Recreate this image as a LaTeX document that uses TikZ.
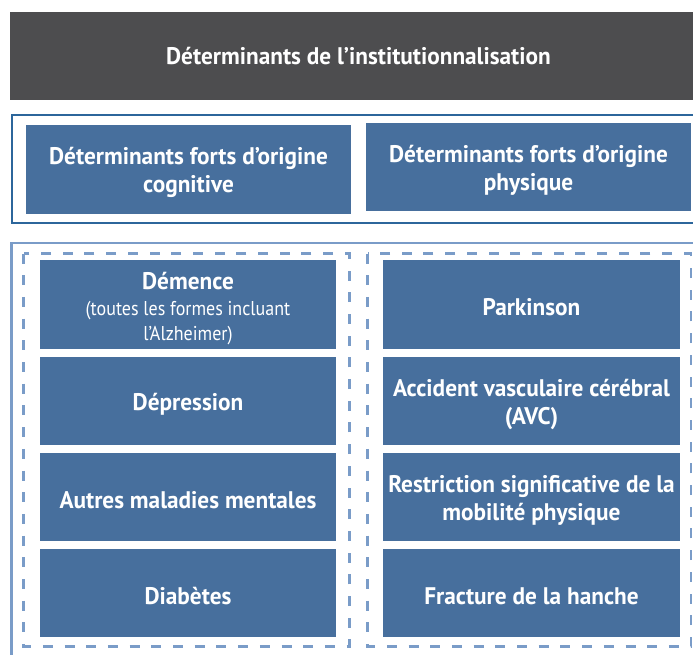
\documentclass[tikz,border=0pt]{standalone}
\usepackage{fontspec}
\setmainfont{PT Sans}[FakeStretch=0.97]
\definecolor{darkbar}{RGB}{77,77,79}
\definecolor{frameA}{RGB}{44,102,155}
\definecolor{frameB}{RGB}{122,156,200}
\definecolor{boxblue}{RGB}{71,111,157}
\tikzset{
  bluebox/.style={rectangle, fill=boxblue, draw=none, inner sep=0pt},
  darkbox/.style={rectangle, fill=darkbar, draw=none, inner sep=0pt},
  lbl/.style={text=white, align=center, inner sep=0pt, yshift=-3pt,
    font=\fontsize{24}{28}\selectfont\bfseries},
  solidframe/.style={draw=frameA, line width=2.6pt},
  lightframe/.style={draw=frameB, line width=2.8pt},
  dashframe/.style={draw=frameB, line width=2.6pt, dash pattern=on 10pt off 11.7pt},
}
\newcommand{\subfnt}{\fontsize{20}{24}\selectfont\mdseries\addfontfeature{FakeStretch=0.9}}
\begin{document}
\begin{tikzpicture}[x=1pt,y=-1pt]
\useasboundingbox (0,0) rectangle (693,654);
% title bar
\node[darkbox, minimum width=697pt, minimum height=88pt] (title) at (358.5,56) {};
\node[lbl, yshift=3pt] (title-t) at (title.center) {Déterminants de l’institutionnalisation};
% frame 1
\draw[solidframe] (12,115) rectangle (705,223);
\node[bluebox, minimum width=325pt, minimum height=89pt] (cog) at (188.5,169.5) {};
\node[lbl] (cog-t) at (cog.center) {Déterminants forts d’origine\\cognitive};
\node[bluebox, minimum width=325pt, minimum height=88pt] (phy) at (528.5,167) {};
\node[lbl] (phy-t) at (phy.center) {Déterminants forts d’origine\\physique};
% frame 2
\draw[lightframe] (11.5,243) rectangle (705,680);
\draw[dashframe] (23.5,253.5) rectangle (349.5,646.5);
\draw[dashframe] (367.5,253.5) rectangle (691,646.5);
% left column
\node[bluebox, minimum width=296pt, minimum height=89pt] (dem) at (188,304.5) {};
\node[lbl, yshift=-1pt] (dem-t) at (dem.center)
  {Démence\\[-2pt]\subfnt (toutes les formes incluant\\[-3pt]\subfnt l’Alzheimer)};
\node[bluebox, minimum width=296pt, minimum height=88pt] (dep) at (188,401) {};
\node[lbl] (dep-t) at (dep.center) {Dépression};
\node[bluebox, minimum width=296pt, minimum height=88pt] (aut) at (188,497) {};
\node[lbl] (aut-t) at (aut.center) {Autres maladies mentales};
\node[bluebox, minimum width=296pt, minimum height=88pt] (dia) at (188,593) {};
\node[lbl] (dia-t) at (dia.center) {Diabètes};
% right column
\node[bluebox, minimum width=297pt, minimum height=89pt] (par) at (531.5,304.5) {};
\node[lbl] (par-t) at (par.center) {Parkinson};
\node[bluebox, minimum width=297pt, minimum height=88pt] (avc) at (531.5,401) {};
\node[lbl] (avc-t) at (avc.center) {Accident vasculaire cérébral\\(AVC)};
\node[bluebox, minimum width=297pt, minimum height=88pt] (res) at (531.5,497) {};
\node[lbl] (res-t) at (res.center) {Restriction significative de la\\mobilité physique};
\node[bluebox, minimum width=297pt, minimum height=88pt] (fra) at (531.5,593) {};
\node[lbl] (fra-t) at (fra.center) {Fracture de la hanche};
\end{tikzpicture}
\end{document}
